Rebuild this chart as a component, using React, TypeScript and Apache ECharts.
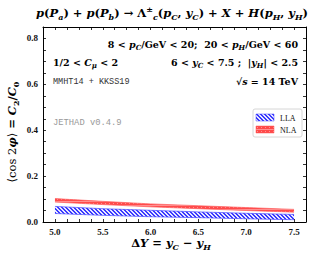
import React, { useEffect, useRef } from 'react';
import * as echarts from 'echarts';

const xValues = [5.0, 5.5, 6.0, 6.5, 7.0, 7.5];
const llaLower = [0.037, 0.029, 0.023, 0.019, 0.014, 0.010];
const llaUpper = [0.068, 0.058, 0.051, 0.044, 0.038, 0.033];
const nlaLower = [0.087, 0.076, 0.066, 0.058, 0.050, 0.043];
const nlaUpper = [0.102, 0.090, 0.079, 0.071, 0.063, 0.055];
const xTickLabels = ['5.0', '5.5', '6.0', '6.5', '7.0', '7.5'];
const yTickLabels = ['0.0', '0.2', '0.4', '0.6', '0.8'];
const seriesNames = ['LLA', 'NLA'];

const SERIF = '"DejaVu Serif", "Liberation Serif", serif';
const TSERIF = '"Liberation Serif", "DejaVu Serif", serif';
const MONO = '"Liberation Mono", "DejaVu Sans Mono", monospace';

function makeBlue() {
  const c = document.createElement('canvas');
  c.width = 4; c.height = 4;
  const g = c.getContext('2d')!;
  g.fillStyle = '#3a3aff';
  g.fillRect(0, 0, 4, 4);
  g.fillStyle = '#e8e8ff';
  for (let i = 0; i < 4; i++) { g.fillRect(i, i, 1, 1); g.fillRect((i + 1) % 4, i, 1, 1); }
  return c;
}
function makeRed() {
  const c = document.createElement('canvas');
  c.width = 4; c.height = 4;
  const g = c.getContext('2d')!;
  g.fillStyle = '#ff4a4a';
  g.fillRect(0, 0, 4, 4);
  g.fillStyle = '#ff9090';
  g.fillRect(0, 1, 4, 1);
  g.fillRect(1, 3, 1, 1);
  return c;
}

function rich(fs: number) {
  const lh = Math.round(fs * 1.35);
  const sub = Math.round(fs * 0.7);
  return {
    r: { fontFamily: SERIF, fontWeight: 'bold', fontSize: fs, lineHeight: lh, color: '#000' },
    u: { fontFamily: SERIF, fontWeight: 'normal', fontSize: fs, lineHeight: lh, color: '#000' },
    n: { fontFamily: SERIF, fontWeight: 'bold', fontStyle: 'italic', fontSize: fs, lineHeight: lh, color: '#000' },
    s: { fontFamily: SERIF, fontWeight: 'bold', fontStyle: 'italic', fontSize: sub, lineHeight: sub, verticalAlign: 'bottom', color: '#000' },
    sr: { fontFamily: SERIF, fontWeight: 'bold', fontSize: sub, lineHeight: sub, verticalAlign: 'bottom', color: '#000' },
    sp: { fontFamily: SERIF, fontWeight: 'bold', fontSize: sub, lineHeight: sub, verticalAlign: 'top', color: '#000' },
  };
}

function txt(text: string, x: number, y: number, align: string, fs: number, extra: any = {}) {
  return {
    type: 'text', x, y, silent: true, ...extra,
    style: { text, rich: rich(fs), align, verticalAlign: 'middle' },
  };
}

function bandSeries(name: string, lo: number[], hi: number[], fill: any, stroke: string) {
  const n = xValues.length;
  return {
    type: 'custom', name, silent: true, clip: true,
    data: xValues.map((x, i) => [x, lo[i], hi[i]]),
    encode: { x: 0, y: [1, 2] },
    renderItem: (params: any, api: any) => {
      if (params.dataIndex !== 0) return null;
      const lower: number[][] = [];
      const upper: number[][] = [];
      for (let i = 0; i < n; i++) {
        lower.push(api.coord([api.value(0, i), api.value(1, i)]));
        upper.push(api.coord([api.value(0, i), api.value(2, i)]));
      }
      const poly = lower.concat(upper.slice().reverse());
      return {
        type: 'group',
        children: [
          { type: 'polygon', shape: { points: poly }, style: { fill, stroke: 'none' } },
          { type: 'polyline', shape: { points: lower }, style: { fill: 'none', stroke, lineWidth: 0.7 } },
          { type: 'polyline', shape: { points: upper }, style: { fill: 'none', stroke, lineWidth: 0.7 } },
        ],
      };
    },
  };
}

export default function App() {
  const ref = useRef<HTMLDivElement>(null);
  useEffect(() => {
    if (!ref.current) return;
    const chart = echarts.init(ref.current, undefined, { renderer: 'svg' });
    const bluePat = { image: makeBlue(), repeat: 'repeat' };
    const redPat = { image: makeRed(), repeat: 'repeat' };

    const xFmt = (v: number) => {
      const s = v.toFixed(1);
      return Math.abs(v * 2 - Math.round(v * 2)) < 1e-6 && xTickLabels.includes(s) ? s : '';
    };
    const yFmt = (v: number) => {
      const s = v.toFixed(1);
      return Math.abs(v * 5 - Math.round(v * 5)) < 1e-6 && yTickLabels.includes(s) ? s : '';
    };
    const axLine = { show: true, onZero: false, lineStyle: { color: '#000', width: 1 } };
    const tick = { show: true, inside: true, length: 3, lineStyle: { color: '#000', width: 0.8 } };
    const lbl = { fontFamily: TSERIF, fontWeight: 'bold', fontSize: 9, color: '#111' };

    const xBase = { type: 'value', min: 4.875, max: 7.625, interval: 0.125, axisLine: axLine, axisTick: tick, splitLine: { show: false } };
    const yBase = { type: 'value', min: 0, max: 0.85, interval: 0.05, axisLine: axLine, axisTick: tick, splitLine: { show: false } };

    chart.setOption({
      animation: false,
      grid: { left: 43, right: 9, top: 27, bottom: 32 },
      xAxis: [
        { ...xBase, position: 'bottom', axisLabel: { ...lbl, formatter: xFmt, margin: 5 } },
        { ...xBase, position: 'top', axisLabel: { show: false } },
      ],
      yAxis: [
        { ...yBase, position: 'left', axisLabel: { ...lbl, formatter: yFmt, margin: 5 } },
        { ...yBase, position: 'right', axisLabel: { show: false } },
      ],
      series: [
        bandSeries(seriesNames[0], llaLower, llaUpper, bluePat, '#4a4aff'),
        bandSeries(seriesNames[1], nlaLower, nlaUpper, redPat, '#ff5a5a'),
      ],
      graphic: [
        txt('{n|p}{r|(}{n|P}{s|a}{r|) + }{n|p}{r|(}{n|P}{s|b}{r|) → Λ}{sp|±}{s|c}{r|(}{n|p}{s|C}{r|, }{n|y}{s|C}{r|) + }{n|X}{r| + }{n|H}{r|(}{n|p}{s|H}{r|, }{n|y}{s|H}{r|)}', 172, 13, 'center', 11.5),
        txt('{r|8 < }{n|p}{s|C}{r|/GeV < 20;  20 < }{n|p}{s|H}{r|/GeV < 60}', 298, 44, 'right', 9.5),
        txt('{r|1/2 < }{n|C}{s|μ}{r| < 2}', 53, 62, 'left', 9.5),
        txt('{r|6 < }{n|y}{s|C}{r| < 7.5 ;  |}{n|y}{s|H}{r|| < 2.5}', 298, 62, 'right', 9.5),
        txt('{r|√}{n|s}{r| = 14 TeV}', 298, 81, 'right', 9.5),
        { type: 'text', x: 53, y: 82, silent: true, style: { text: 'MMHT14 + KKSS19', font: '8.5px ' + MONO, fill: '#333', align: 'left', verticalAlign: 'middle' } },
        { type: 'text', x: 53, y: 123, silent: true, style: { text: 'JETHAD v0.4.9', font: '8.8px ' + MONO, fill: '#999', align: 'left', verticalAlign: 'middle' } },
        txt('{u|⟨cos 2}{n|φ}{u|⟩}{r| = }{n|C}{sr|2}{r|/}{n|C}{sr|0}', 12, 132, 'center', 11.5, { rotation: Math.PI / 2 }),
        txt('{r|Δ}{n|Y}{r| = }{n|y}{s|C}{r| − }{n|y}{s|H}', 171, 243, 'center', 11.5),
        {
          type: 'group', silent: true,
          children: [
            { type: 'rect', shape: { x: 253, y: 109, width: 49, height: 28, r: 2 }, style: { fill: '#fff', stroke: '#cccccc', lineWidth: 0.8 } },
            { type: 'rect', shape: { x: 256, y: 114, width: 18, height: 7 }, style: { fill: bluePat, stroke: '#4a4aff', lineWidth: 0.5 } },
            { type: 'rect', shape: { x: 256, y: 126, width: 18, height: 7 }, style: { fill: redPat, stroke: '#ff5a5a', lineWidth: 0.5 } },
            { type: 'text', x: 280, y: 118, style: { text: seriesNames[0], font: '8px ' + TSERIF, fill: '#111', align: 'left', verticalAlign: 'middle' } },
            { type: 'text', x: 280, y: 130, style: { text: seriesNames[1], font: '8px ' + TSERIF, fill: '#111', align: 'left', verticalAlign: 'middle' } },
          ],
        },
      ],
    });
    return () => chart.dispose();
  }, []);
  return <div ref={ref} style={{ position: 'absolute', left: 0, top: 0, width: 315, height: 254 }} />;
}
